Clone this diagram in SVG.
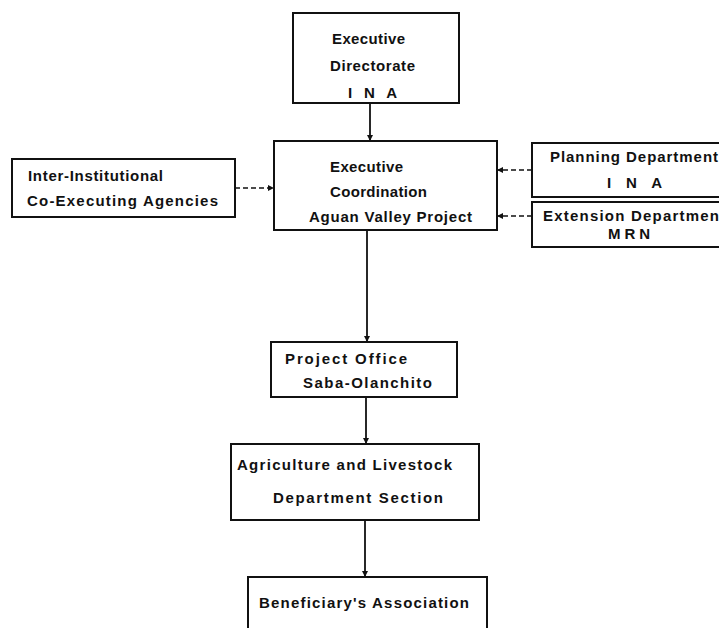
<svg xmlns="http://www.w3.org/2000/svg" width="719" height="628" viewBox="0 0 719 628">
<style>
.box{fill:#fff;stroke:#111;stroke-width:2}
.t{font-family:"Liberation Sans",Arial,sans-serif;font-weight:bold;font-size:15px;fill:#111}
.ln{stroke:#111;stroke-width:1.8;fill:none}
.dl{stroke:#111;stroke-width:1.5;fill:none;stroke-dasharray:5 3}
</style>
<defs>
<marker id="ah" viewBox="0 0 10 10" refX="10" refY="5" markerWidth="6" markerHeight="6" orient="auto" markerUnits="userSpaceOnUse">
<path d="M0,0 L10,5 L0,10 z" fill="#111"/>
</marker>
</defs>
<rect width="719" height="628" fill="#fff"/>
<g id="connectors">
<line class="ln" x1="370" y1="103" x2="370" y2="141" marker-end="url(#ah)"/>
<line class="dl" x1="235" y1="188" x2="274" y2="188" marker-end="url(#ah)"/>
<line class="dl" x1="532" y1="170" x2="497" y2="170" marker-end="url(#ah)"/>
<line class="dl" x1="532" y1="216" x2="497" y2="216" marker-end="url(#ah)"/>
<line class="ln" x1="367" y1="230" x2="367" y2="342" marker-end="url(#ah)"/>
<line class="ln" x1="366" y1="397" x2="366" y2="444" marker-end="url(#ah)"/>
<line class="ln" x1="365" y1="520" x2="365" y2="577" marker-end="url(#ah)"/>
</g>
<g id="exec-directorate">
<rect class="box" x="293" y="13" width="166" height="90"/>
<text class="t" x="332" y="44" textLength="73" lengthAdjust="spacing">Executive</text>
<text class="t" x="330" y="71" textLength="85" lengthAdjust="spacing">Directorate</text>
<text class="t" x="348" y="98" textLength="49" lengthAdjust="spacing">I N A</text>
</g>
<g id="exec-coordination">
<rect class="box" x="274" y="141" width="223" height="89"/>
<text class="t" x="330" y="172" textLength="73" lengthAdjust="spacing">Executive</text>
<text class="t" x="330" y="197" textLength="97" lengthAdjust="spacing">Coordination</text>
<text class="t" x="309" y="222" textLength="163" lengthAdjust="spacing">Aguan Valley Project</text>
</g>
<g id="inter-institutional">
<rect class="box" x="12" y="159" width="223" height="58"/>
<text class="t" x="28" y="181" textLength="135" lengthAdjust="spacing">Inter-Institutional</text>
<text class="t" x="27" y="206" textLength="191" lengthAdjust="spacing">Co-Executing Agencies</text>
</g>
<g id="planning">
<rect class="box" x="532" y="143" width="200" height="54"/>
<text class="t" x="550" y="162" textLength="168" lengthAdjust="spacing">Planning Department</text>
<text class="t" x="607" y="188" textLength="55" lengthAdjust="spacing">I N A</text>
</g>
<g id="extension">
<rect class="box" x="532" y="202" width="200" height="45"/>
<text class="t" x="543" y="221" textLength="176" lengthAdjust="spacing">Extension Departmen</text>
<text class="t" x="608" y="239" textLength="42" lengthAdjust="spacing">M R N</text>
</g>
<g id="project-office">
<rect class="box" x="271" y="342" width="186" height="55"/>
<text class="t" x="285" y="364" textLength="122" lengthAdjust="spacing">Project Office</text>
<text class="t" x="303" y="388" textLength="129" lengthAdjust="spacing">Saba-Olanchito</text>
</g>
<g id="agriculture">
<rect class="box" x="231" y="444" width="248" height="76"/>
<text class="t" x="237" y="470" textLength="215" lengthAdjust="spacing">Agriculture and Livestock</text>
<text class="t" x="273" y="503" textLength="170" lengthAdjust="spacing">Department Section</text>
</g>
<g id="beneficiary">
<rect class="box" x="248" y="577" width="239" height="65"/>
<text class="t" x="259" y="608" textLength="210" lengthAdjust="spacing">Beneficiary's Association</text>
</g>
</svg>
